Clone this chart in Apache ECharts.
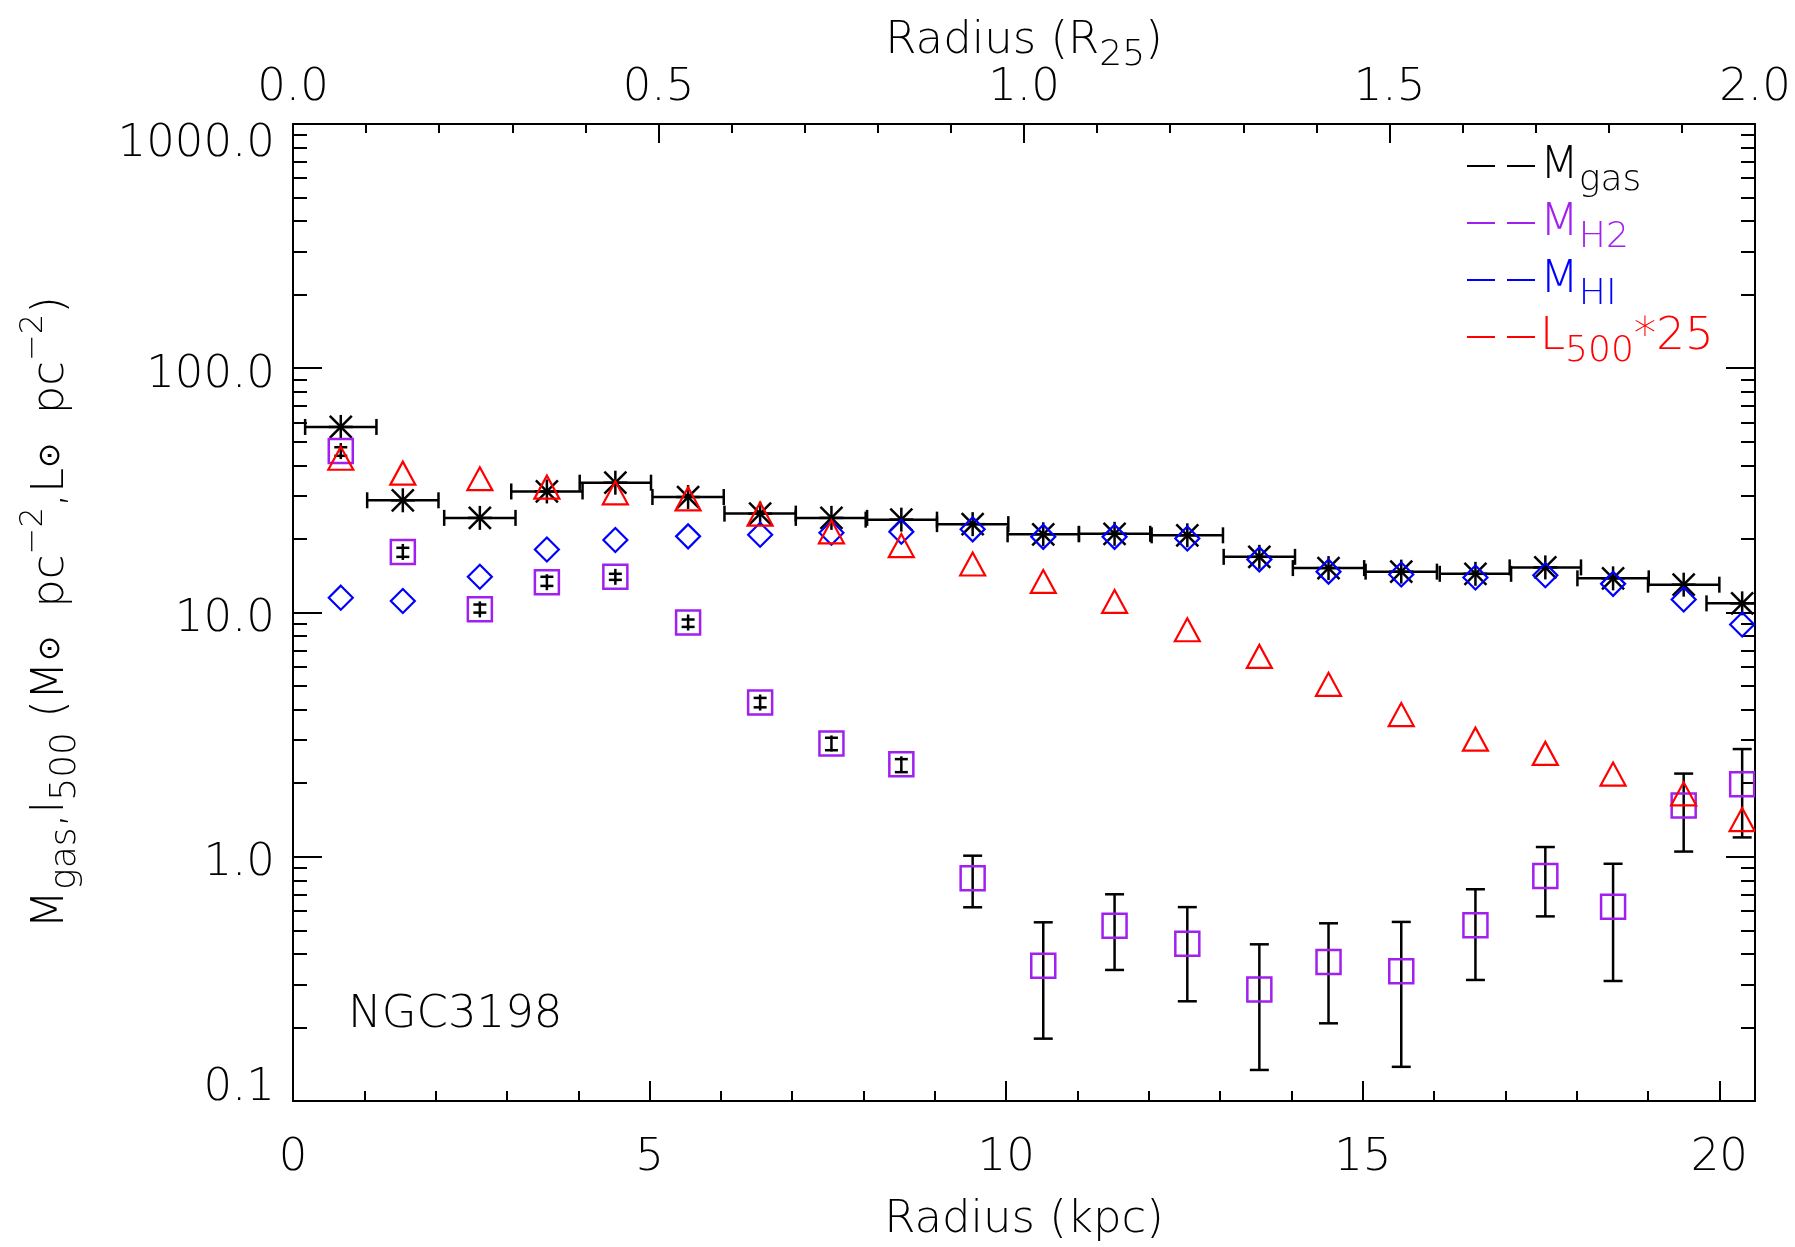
<!DOCTYPE html>
<html>
<head>
<meta charset="utf-8">
<script src="https://cdn.jsdelivr.net/npm/echarts@6/dist/echarts.min.js"></script>
<style>
  html, body { margin: 0; padding: 0; background: #ffffff; }
  #chart { width: 1795px; height: 1247px; }
</style>
</head>
<body>
<div id="chart"></div>
<script>
// NGC3198 radial profiles: gas surface densities and 500 micron surface brightness
const radiusKpc = [0.67, 1.54, 2.62, 3.56, 4.52, 5.54, 6.55, 7.55, 8.53, 9.53, 10.52,
                   11.52, 12.54, 13.55, 14.52, 15.54, 16.58, 17.56, 18.51, 19.50, 20.32];
const binHalfWidth = [0.5, 0.5, 0.5, 0.5, 0.5, 0.5, 0.5, 0.5, 0.5, 0.5, 0.5,
                      0.5, 0.5, 0.5, 0.5, 0.5, 0.5, 0.5, 0.5, 0.5, 0.5];
const mGas = [57.5, 28.8, 24.4, 31.3, 34.0, 29.7, 25.4, 24.4, 24.0, 23.0, 20.9,
              21.0, 20.7, 16.9, 15.2, 14.7, 14.4, 15.3, 13.8, 13.0, 10.9];
const mH2 = [45.8, 17.7, 10.3, 13.3, 14.0, 9.1, 4.28, 2.91, 2.39, 0.816, 0.358,
             0.522, 0.440, 0.286, 0.371, 0.340, 0.524, 0.834, 0.624, 1.62, 1.98];
const mH2Low = [43.8, 16.9, 9.99, 12.85, 13.6, 8.73, 4.09, 2.73, 2.22, 0.621, 0.180,
                0.344, 0.256, 0.134, 0.208, 0.138, 0.313, 0.570, 0.310, 1.05, 1.20];
const mH2High = [47.5, 18.4, 10.78, 14.0, 14.4, 9.36, 4.47, 3.07, 2.51, 1.01, 0.539,
                 0.702, 0.622, 0.438, 0.534, 0.541, 0.736, 1.096, 0.936, 2.19, 2.76];
const mHI = [11.5, 11.15, 14.0, 18.1, 19.8, 20.5, 20.8, 21.2, 21.4, 21.9, 20.4,
             20.4, 20.1, 16.5, 14.7, 14.3, 13.9, 14.2, 13.1, 11.3, 8.93];
const l500x25 = [42.8, 37.2, 35.3, 32.6, 30.9, 29.2, 25.3, 21.4, 18.8, 15.8, 13.4,
                 11.1, 8.5, 6.61, 5.08, 3.82, 3.03, 2.65, 2.18, 1.81, 1.42];

// axis ticks
const kpcMajorTicks = [0, 5, 10, 15, 20];
const kpcMinorTicks = [1, 2, 3, 4, 6, 7, 8, 9, 11, 12, 13, 14, 16, 17, 18, 19];
const logMinorTicks = [0.2, 0.3, 0.4, 0.5, 0.6, 0.7, 0.8, 0.9,
                       2, 3, 4, 5, 6, 7, 8, 9,
                       20, 30, 40, 50, 60, 70, 80, 90,
                       200, 300, 400, 500, 600, 700, 800, 900];

const FONT = 'DejaVu Sans';
const WEIGHT = 200;
const BLACK = '#000000';
const PURPLE = '#A020F0';
const BLUE = '#0000FF';
const RED = '#FF0000';

// text with sub/superscripts: every token shares one line height,
// sub- and superscripts are shifted by asymmetric padding
function richSet(color) {
  const base = { fontFamily: FONT, fontWeight: WEIGHT, color: color, lineHeight: 70 };
  return {
    n: Object.assign({}, base, { fontSize: 45 }),
    sub: Object.assign({}, base, { fontSize: 36, padding: [30, 0, 0, 0] }),
    sup: Object.assign({}, base, { fontSize: 32, padding: [0, 0, 34, 0] }),
    sun: Object.assign({}, base, { fontSize: 30 })
  };
}

const legendText = {
  'M_gas': '{n|M}{sub|gas}',
  'M_H2': '{n|M}{sub|H2}',
  'M_HI': '{n|M}{sub|HI}',
  'L_500*25': '{n|L}{sub|500}{n|*25}'
};

function seg(p, q, stroke, w) {
  return { type: 'line', shape: { x1: p[0], y1: p[1], x2: q[0], y2: q[1] },
           style: { stroke: stroke, lineWidth: w, fill: null } };
}

const axisLineStyle = { color: BLACK, width: 2 };
const tickStyle = { color: BLACK, width: 2 };
const labelBase = { fontFamily: FONT, fontWeight: WEIGHT, fontSize: 45, color: BLACK };
const yLabelBase = { fontFamily: FONT, fontWeight: WEIGHT, fontSize: 45, color: BLACK, lineHeight: 45 };
const plotRect = { left: 293, right: 40, top: 124, bottom: 146, containLabel: false, outerBoundsMode: 'none' };

function hiddenAxis(extra) {
  return Object.assign({
    axisLine: { show: false, onZero: false }, axisLabel: { show: false }, splitLine: { show: false }
  }, extra);
}

const option = {
  backgroundColor: '#ffffff',
  animation: false,
  title: {
    text: 'NGC3198', left: 348, top: 993, padding: 0,
    textStyle: { fontFamily: FONT, fontWeight: WEIGHT, fontSize: 45, color: BLACK }
  },
  legend: {
    orient: 'vertical', left: 1467, top: 133, padding: 0,
    itemWidth: 68, itemHeight: 2, itemGap: -9,
    icon: 'path://M0,0h28v2h-28z M40,0h28v2h-28z',
    selectedMode: false,
    data: [
      { name: 'M_gas', textStyle: { rich: richSet(BLACK) } },
      { name: 'M_H2', textStyle: { rich: richSet(PURPLE) } },
      { name: 'M_HI', textStyle: { rich: richSet(BLUE) } },
      { name: 'L_500*25', textStyle: { rich: richSet(RED) } }
    ],
    formatter: function (name) { return legendText[name]; }
  },
  // one plotting grid plus two overlays that only carry minor ticks
  grid: [
    Object.assign({}, plotRect),
    Object.assign({}, plotRect),
    Object.assign({}, plotRect)
  ],
  xAxis: [
    {
      type: 'value', gridIndex: 0, min: 0, max: 20.5, position: 'bottom',
      axisLine: { show: true, onZero: false, lineStyle: axisLineStyle },
      axisTick: { show: true, inside: true, length: 20, customValues: kpcMajorTicks, lineStyle: tickStyle },
      axisLabel: Object.assign({ customValues: kpcMajorTicks, margin: 35 }, labelBase),
      splitLine: { show: false },
      name: 'Radius (kpc)', nameLocation: 'middle', nameGap: 97, nameMoveOverlap: false,
      nameTextStyle: labelBase
    },
    {
      type: 'value', gridIndex: 0, min: 0, max: 2, interval: 0.5, position: 'top',
      axisLine: { show: true, onZero: false, lineStyle: axisLineStyle },
      axisTick: { show: true, inside: true, length: 19, lineStyle: tickStyle },
      minorTick: { show: true, splitNumber: 5, length: 9, lineStyle: tickStyle },
      axisLabel: Object.assign({ margin: 13, formatter: function (v) { return v.toFixed(1); } }, labelBase),
      splitLine: { show: false },
      name: '{n|Radius (R}{sub|25}{n|)}', nameLocation: 'middle', nameGap: 48, nameMoveOverlap: false,
      nameTextStyle: { rich: richSet(BLACK) }
    },
    hiddenAxis({
      type: 'value', gridIndex: 1, min: 0, max: 20.5, position: 'bottom',
      axisTick: { show: true, inside: true, length: 10, customValues: kpcMinorTicks, lineStyle: tickStyle }
    }),
    hiddenAxis({
      type: 'value', gridIndex: 2, min: 0, max: 20.5, position: 'top',
      axisTick: { show: false }
    })
  ],
  yAxis: [
    {
      type: 'log', logBase: 10, gridIndex: 0, min: 0.1, max: 1000, position: 'left',
      axisLine: { show: true, onZero: false, lineStyle: axisLineStyle },
      axisTick: { show: true, inside: true, length: 29, lineStyle: tickStyle },
      axisLabel: {
        margin: 18,
        formatter: function (v) {
          const s = Number(v).toFixed(1);
          if (v > 500) return '{top|' + s + '}';
          if (v < 0.5) return '{bot|' + s + '}';
          return '{mid|' + s + '}';
        },
        rich: {
          top: Object.assign({ padding: [40, 0, 0, 0] }, yLabelBase),
          mid: Object.assign({ padding: [14, 0, 0, 0] }, yLabelBase),
          bot: Object.assign({ padding: [0, 0, 26, 0] }, yLabelBase)
        }
      },
      splitLine: { show: false },
      name: '{n|M}{sub|gas}{n|,l}{sub|500}{n| (M}{sun|⊙}{n|  pc}{sup|−2}{n|,L}{sun|⊙}{n|  pc}{sup|−2}{n|)}',
      nameLocation: 'middle', nameRotate: 90, nameGap: 207, nameMoveOverlap: false,
      nameTextStyle: { rich: richSet(BLACK) }
    },
    {
      type: 'log', logBase: 10, gridIndex: 0, min: 0.1, max: 1000, position: 'right',
      axisLine: { show: true, onZero: false, lineStyle: axisLineStyle },
      axisTick: { show: true, inside: true, length: 29, lineStyle: tickStyle },
      axisLabel: { show: false },
      splitLine: { show: false }
    },
    hiddenAxis({
      type: 'log', logBase: 10, gridIndex: 1, min: 0.1, max: 1000, position: 'left',
      axisTick: { show: true, inside: true, length: 14, customValues: logMinorTicks, lineStyle: tickStyle }
    }),
    hiddenAxis({
      type: 'log', logBase: 10, gridIndex: 2, min: 0.1, max: 1000, position: 'right',
      axisTick: { show: true, inside: true, length: 14, customValues: logMinorTicks, lineStyle: tickStyle }
    })
  ],
  series: [
    {
      // total gas: asterisks with radial bin widths
      type: 'custom', name: 'M_gas', xAxisIndex: 0, yAxisIndex: 0, clip: true,
      itemStyle: { color: BLACK },
      data: radiusKpc.map(function (r, i) { return [r, mGas[i], binHalfWidth[i]]; }),
      encode: { x: 0, y: 1 },
      renderItem: function (params, api) {
        const x = api.value(0), y = api.value(1), hw = api.value(2);
        const c = api.coord([x, y]);
        const a = api.coord([x - hw, y]);
        const b = api.coord([x + hw, y]);
        const w = 2.5, cap = 8, r = 12, d = 11;
        return {
          type: 'group',
          children: [
            seg(a, b, BLACK, w),
            seg([a[0], a[1] - cap], [a[0], a[1] + cap], BLACK, w),
            seg([b[0], b[1] - cap], [b[0], b[1] + cap], BLACK, w),
            seg([c[0] - r, c[1]], [c[0] + r, c[1]], BLACK, w),
            seg([c[0], c[1] - r], [c[0], c[1] + r], BLACK, w),
            seg([c[0] - d, c[1] - d], [c[0] + d, c[1] + d], BLACK, w),
            seg([c[0] - d, c[1] + d], [c[0] + d, c[1] - d], BLACK, w)
          ]
        };
      }
    },
    {
      // molecular gas: squares with error bars
      type: 'custom', name: 'M_H2', xAxisIndex: 0, yAxisIndex: 0, clip: true,
      itemStyle: { color: PURPLE },
      data: radiusKpc.map(function (r, i) { return [r, mH2[i], mH2Low[i], mH2High[i]]; }),
      encode: { x: 0, y: 1 },
      renderItem: function (params, api) {
        const x = api.value(0);
        const c = api.coord([x, api.value(1)]);
        const lo = api.coord([x, api.value(2)]);
        const hi = api.coord([x, api.value(3)]);
        const w = 2.5, h = 12, stem = 8;
        const cap = (lo[1] - hi[1]) < 30 ? 6.5 : 9.5;
        return {
          type: 'group',
          children: [
            seg([c[0], Math.min(hi[1], c[1] - stem)], [c[0], Math.max(lo[1], c[1] + stem)], BLACK, w),
            seg([lo[0] - cap, lo[1]], [lo[0] + cap, lo[1]], BLACK, w),
            seg([hi[0] - cap, hi[1]], [hi[0] + cap, hi[1]], BLACK, w),
            { type: 'rect', shape: { x: c[0] - h, y: c[1] - h, width: 2 * h, height: 2 * h },
              style: { fill: null, stroke: PURPLE, lineWidth: 2.5 } }
          ]
        };
      }
    },
    {
      // atomic gas: diamonds
      type: 'custom', name: 'M_HI', xAxisIndex: 0, yAxisIndex: 0, clip: true,
      itemStyle: { color: BLUE },
      data: radiusKpc.map(function (r, i) { return [r, mHI[i]]; }),
      encode: { x: 0, y: 1 },
      renderItem: function (params, api) {
        const c = api.coord([api.value(0), api.value(1)]);
        const h = 12;
        return {
          type: 'polygon',
          shape: { points: [[c[0], c[1] - h], [c[0] + h, c[1]], [c[0], c[1] + h], [c[0] - h, c[1]]] },
          style: { fill: null, stroke: BLUE, lineWidth: 2.2 }
        };
      }
    },
    {
      // 500 micron surface brightness scaled by 25: triangles
      type: 'custom', name: 'L_500*25', xAxisIndex: 0, yAxisIndex: 0, clip: true,
      itemStyle: { color: RED },
      data: radiusKpc.map(function (r, i) { return [r, l500x25[i]]; }),
      encode: { x: 0, y: 1 },
      renderItem: function (params, api) {
        const c = api.coord([api.value(0), api.value(1)]);
        const hw = 12.5, hh = 11.5;
        return {
          type: 'polygon',
          shape: { points: [[c[0] - hw, c[1] + hh], [c[0], c[1] - hh], [c[0] + hw, c[1] + hh]] },
          style: { fill: null, stroke: RED, lineWidth: 2.2 }
        };
      }
    }
  ]
};

const chart = echarts.init(document.getElementById('chart'), null, { renderer: 'canvas' });
chart.setOption(option);
</script>
</body>
</html>
